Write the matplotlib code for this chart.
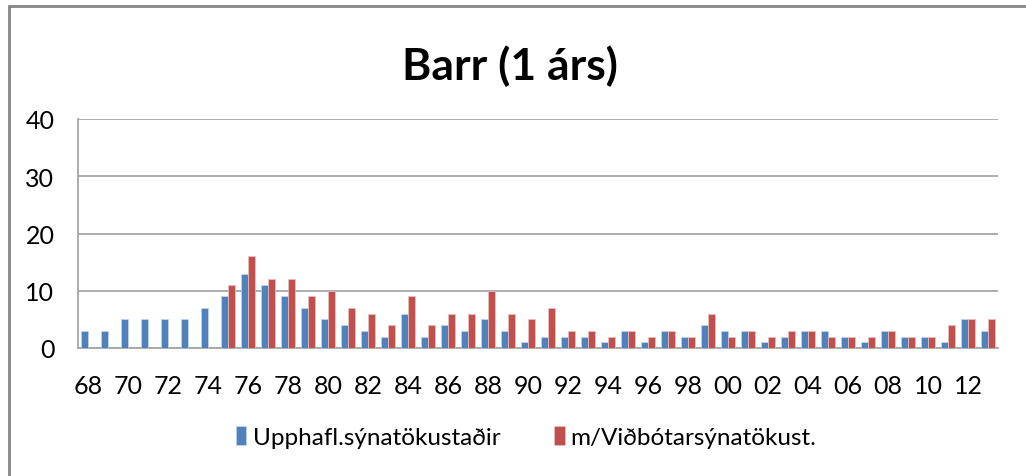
import matplotlib
matplotlib.use("Agg")
import matplotlib.pyplot as plt
import numpy as np
from matplotlib.patches import Rectangle

plt.rcParams['font.family'] = ['Lato', 'DejaVu Sans']

years = ["68", "69", "70", "71", "72", "73", "74", "75", "76", "77", "78", "79",
         "80", "81", "82", "83", "84", "85", "86", "87", "88", "89", "90", "91",
         "92", "93", "94", "95", "96", "97", "98", "99", "00", "01", "02", "03",
         "04", "05", "06", "07", "08", "09", "10", "11", "12", "13"]
upphafl = [3, 3, 5, 5, 5, 5, 7, 9, 13, 11, 9, 7,
           5, 4, 3, 2, 6, 2, 4, 3, 5, 3, 1, 2,
           2, 2, 1, 3, 1, 3, 2, 4, 3, 3, 1, 2,
           3, 3, 2, 1, 3, 2, 2, 1, 5, 3]
vidbotar = [0, 0, 0, 0, 0, 0, 0, 11, 16, 12, 12, 9,
            10, 7, 6, 4, 9, 4, 6, 6, 10, 6, 5, 7,
            3, 3, 2, 3, 2, 3, 2, 6, 2, 3, 2, 3,
            3, 2, 2, 2, 3, 2, 2, 4, 5, 5]
series_names = ["Upphafl.sýnatökustaðir", "m/Viðbótarsýnatökust."]
title = "Barr (1 árs)"

W, H = 1026, 477
fig = plt.figure(figsize=(W / 100, H / 100), dpi=100)

# outer chart border
fig.patches.append(Rectangle((9 / W, -0.05), 1.1, 1 - 7 / H + 0.05, transform=fig.transFigure,
                             fill=False, edgecolor='#868686', linewidth=2, zorder=0))

ax = fig.add_axes([78 / W, 1 - 349 / H, (998 - 78) / W, (349 - 120) / H])
x = np.arange(len(years))
bw = 0.35
ax.bar(x - bw / 2, upphafl, width=bw, color='#4F81BD', edgecolor='#C6D5EA', linewidth=0.5,
       label=series_names[0], zorder=3)
ax.bar(x + bw / 2, vidbotar, width=bw, color='#C0504D', edgecolor='#E9C3C2', linewidth=0.5,
       label=series_names[1], zorder=3)

ax.set_xlim(-0.5, len(years) - 0.5)
ax.set_ylim(0, 40)
ax.set_yticks([0, 10, 20, 30, 40])
ax.yaxis.grid(True, color='#A6A6A6', linewidth=1.3)
ax.set_axisbelow(True)
ax.set_xticks(x[::2])
ax.set_xticklabels(years[::2])
ax.tick_params(axis='both', length=0, labelsize=18, colors='black')
ax.tick_params(axis='x', pad=19)
ax.tick_params(axis='y', pad=17)
for s in ['top', 'right']:
    ax.spines[s].set_visible(False)
ax.spines['left'].set_color('#A6A6A6')
ax.spines['left'].set_linewidth(1.3)
ax.spines['bottom'].set_color('#A6A6A6')
ax.spines['bottom'].set_linewidth(1.3)

fig.text(510 / W, 1 - 66 / H, title, ha='center', va='center', fontsize=32, fontweight='bold')

fig.legend(loc='center', bbox_to_anchor=(526 / W, 1 - 438 / H), ncol=2, frameon=False,
           fontsize=17.5, handlelength=0.45, handleheight=0.8, handletextpad=0.25,
           columnspacing=2.2)

fig.savefig('out.png', dpi=100)
